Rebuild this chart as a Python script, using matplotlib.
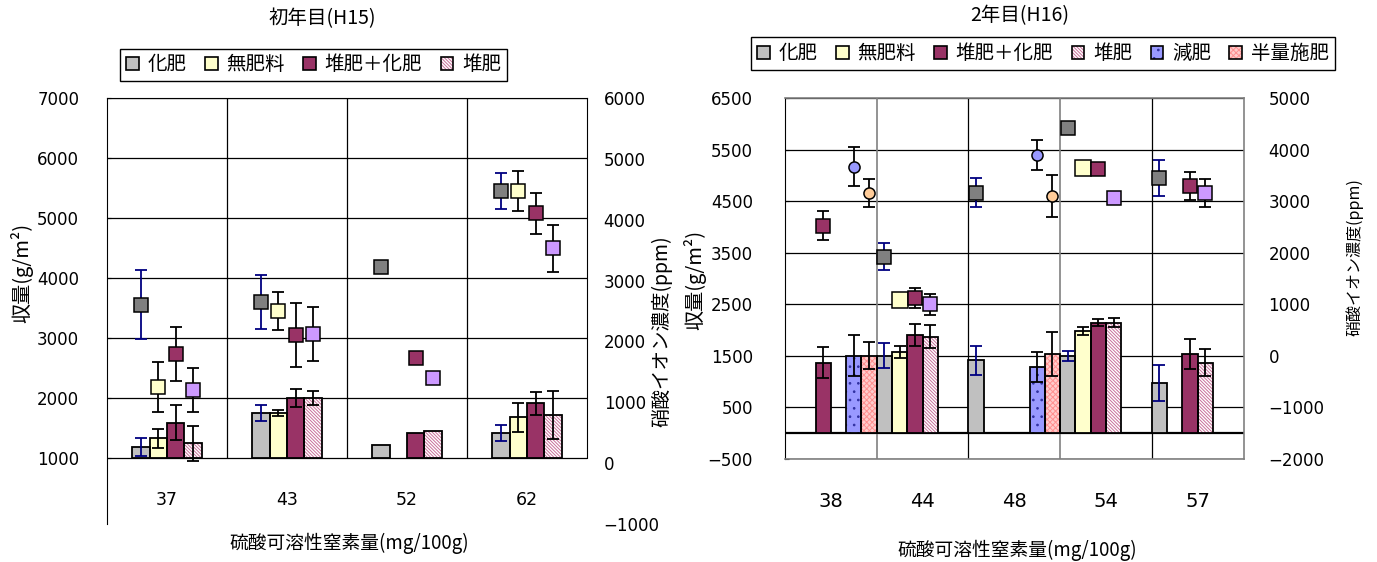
import numpy as np
import matplotlib
matplotlib.use('Agg')
import matplotlib.pyplot as plt
from matplotlib.patches import Patch

plt.rcParams['font.family'] = ['Noto Sans CJK JP', 'DejaVu Sans']
plt.rcParams['hatch.linewidth'] = 0.7
nan = np.nan

# ---- H15 (left chart) ----
cats_h15 = ['37', '43', '52', '62']
series_h15 = ['化肥', '無肥料', '堆肥＋化肥', '堆肥']
# yield bars (g/m2, left axis, axis crosses at 1000)
yield_h15 = {
    '化肥':       [1188, 1745, 1222, 1422],
    '無肥料':     [1328, 1745, nan, 1678],
    '堆肥＋化肥': [1588, 2005, 1422, 1912],
    '堆肥':       [1245, 2005, 1445, 1712],
}
yield_err_h15 = {
    '化肥':       [150, 135, nan, 133],
    '無肥料':     [160, 50, nan, 237],
    '堆肥＋化肥': [290, 148, nan, 190],
    '堆肥':       [290, 115, nan, 397],
}
# nitrate markers (ppm, right axis)
no3_h15 = {
    '化肥':       [2599, 2653, 3228, 4472],
    '無肥料':     [1256, 2505, nan, 4472],
    '堆肥＋化肥': [1794, 2106, 1724, 4107],
    '堆肥':       [1202, 2117, 1396, 3530],
}
no3_err_h15 = {
    '化肥':       [567, 443, 30, 290],
    '無肥料':     [410, 312, nan, 328],
    '堆肥＋化肥': [438, 530, nan, 335],
    '堆肥':       [362, 443, nan, 383],
}

# ---- H16 (right chart) ----
cats_h16 = ['38', '44', '48', '54', '57']
series_h16 = ['化肥', '無肥料', '堆肥＋化肥', '堆肥', '減肥', '半量施肥']
yield_h16 = {
    '化肥':       [nan, 1506, 1410, 1500, 970],
    '無肥料':     [nan, 1571, nan, 1984, nan],
    '堆肥＋化肥': [1371, 1907, nan, 2145, 1532],
    '堆肥':       [nan, 1874, nan, 2145, 1371],
    '減肥':       [1506, nan, 1281, nan, nan],
    '半量施肥':   [1506, nan, 1532, nan, nan],
}
yield_err_h16 = {
    '化肥':       [nan, 250, 275, 100, 355],
    '無肥料':     [nan, 115, nan, 85, nan],
    '堆肥＋化肥': [300, 210, nan, 75, 290],
    '堆肥':       [nan, 225, nan, 90, 265],
    '減肥':       [390, nan, 290, nan, nan],
    '半量施肥':   [268, nan, 425, nan, nan],
}
no3_h16 = {
    '化肥':       [nan, 1924, 3165, 4425, 3456],
    '無肥料':     [nan, 1085, nan, 3638, nan],
    '堆肥＋化肥': [2525, 1130, nan, 3624, 3295],
    '堆肥':       [nan, 1002, nan, 3068, 3165],
    '減肥':       [3669, nan, 3895, nan, nan],
    '半量施肥':   [3165, nan, 3101, nan, nan],
}
no3_err_h16 = {
    '化肥':       [nan, 262, 285, 30, 350],
    '無肥料':     [nan, nan, nan, nan, nan],
    '堆肥＋化肥': [285, 195, nan, 25, 270],
    '堆肥':       [nan, 205, nan, 25, 270],
    '減肥':       [380, nan, 290, nan, nan],
    '半量施肥':   [270, nan, 400, nan, nan],
}

# styles: bar face, hatch, hatch color / marker, marker face, size
bar_style = {
    '化肥':       ('#C0C0C0', None, None),
    '無肥料':     ('#FFFFCC', None, None),
    '堆肥＋化肥': ('#993366', None, None),
    '堆肥':       ('white', '\\' * 10, '#C8709A'),
    '減肥':       ('#9999FF', '..', '#3030A0'),
    '半量施肥':   ('#FFCCCC', 'x' * 6, '#FF9090'),
}
mark_style = {
    '化肥':       ('s', '#808080', 9.5),
    '無肥料':     ('s', '#FFFFCC', 9.5),
    '堆肥＋化肥': ('s', '#993366', 9.5),
    '堆肥':       ('s', '#CC99FF', 9.5),
    '減肥':       ('o', '#9999FF', 8),
    '半量施肥':   ('o', '#FFCC99', 8),
}
err_color = {'化肥': '#000080'}
num_font = 'DejaVu Sans'

W, H = 1377, 562
fig = plt.figure(figsize=(W / 100, H / 100), dpi=100)


def px_axes(x0, x1, y0, y1):
    return fig.add_axes([x0 / W, 1 - y1 / H, (x1 - x0) / W, (y1 - y0) / H])


def draw_bars(ax, series, data, errs, width, base):
    n = len(series)
    for i, s in enumerate(series):
        vals = np.array(data[s], dtype=float)
        x = np.arange(len(vals)) + (i - (n - 1) / 2) * width
        face, hatch, hcol = bar_style[s]
        ax.bar(x, vals - base, width, bottom=base, color=face, hatch=hatch,
               edgecolor=hcol if hatch else face, linewidth=0, zorder=2)
        ax.bar(x, vals - base, width, bottom=base, fill=False,
               edgecolor='black', linewidth=1.3, zorder=3)
        ax.errorbar(x, vals, yerr=errs[s], fmt='none', ecolor=err_color.get(s, 'black'),
                    elinewidth=1.3, capsize=4.5, capthick=1.3, zorder=4)


def draw_marks(ax, series, data, errs, width, sizes=None):
    n = len(series)
    for i, s in enumerate(series):
        vals = np.array(data[s], dtype=float)
        x = np.arange(len(vals)) + (i - (n - 1) / 2) * width
        m, fc, ms = mark_style[s]
        if sizes and s in sizes:
            ms = sizes[s]
        ax.errorbar(x, vals, yerr=errs[s], fmt='none', ecolor=err_color.get(s, 'black'),
                    elinewidth=1.3, capsize=4.5, capthick=1.3, zorder=5)
        ax.plot(x, vals, ls='none', marker=m, ms=ms, mfc=fc, mec='black', mew=1.1, zorder=6)


def legend_handles(series):
    hs = []
    for s in series:
        face, hatch, hcol = bar_style[s]
        if hatch:
            hs.append((Patch(facecolor=face, hatch=hatch, edgecolor=hcol, linewidth=0),
                       Patch(fill=False, edgecolor='black', linewidth=1.2)))
        else:
            hs.append(Patch(facecolor=face, edgecolor='black', linewidth=1.2))
    return hs


# ================= left chart =================
ax = px_axes(107, 587, 98, 524)
ax.set_xlim(-0.5, len(cats_h15) - 0.5)
ax.set_ylim(-100, 7000)
ax.set_yticks(range(1000, 7001, 1000))
ax.yaxis.grid(True, color='black', lw=0.9, zorder=0)
ax.set_axisbelow(True)
ax.vlines(np.arange(len(cats_h15) - 1) + 0.5, 1000, 7000, color='black', lw=0.9, zorder=1)
ax.spines['right'].set_bounds(1000, 7000)
ax.spines['bottom'].set_position(('data', 1000))
ax.spines['bottom'].set_visible(False)
ax.set_xticks(range(len(cats_h15)), cats_h15)
ax.tick_params(axis='x', length=0, pad=24, labelsize=12.5, labelfontfamily=num_font)
ax.tick_params(axis='y', direction='in', length=3, pad=20, labelsize=12, labelfontfamily=num_font)

draw_bars(ax, series_h15, yield_h15, yield_err_h15, 0.145, 1000)

ax2 = ax.twinx()
ax2.set_ylim(-1000, 6000)
ax2.set_yticks(range(-1000, 6001, 1000))
for sp in ax2.spines.values():
    sp.set_visible(False)
ax2.tick_params(axis='y', length=0, pad=12, labelsize=12, labelfontfamily=num_font)
draw_marks(ax2, series_h15, no3_h15, no3_err_h15, 0.145)

fig.text(322 / W, 1 - 19 / H, '初年目(H15)', ha='center', va='center', fontsize=14)
fig.text(349 / W, 1 - 543 / H, '硫酸可溶性窒素量(mg/100g)', ha='center', va='center', fontsize=13.5)
fig.text(22 / W, 1 - 273 / H, '収量(g/m²)', ha='center', va='center', rotation=90, fontsize=14.5)
fig.text(662 / W, 1 - 331 / H, '硝酸イオン濃度(ppm)', ha='center', va='center', rotation=90, fontsize=14)
fig.legend(legend_handles(series_h15), series_h15, loc='center',
           bbox_to_anchor=(313.5 / W, 1 - 65 / H), ncol=4, fontsize=14,
           frameon=True, fancybox=False, edgecolor='black', framealpha=1,
           handlelength=0.65, handleheight=0.65, handletextpad=0.45,
           columnspacing=0.95, borderpad=0.3)

# ================= right chart =================
bx = px_axes(785, 1243.5, 98, 459)
bx.set_xlim(-0.5, len(cats_h16) - 0.5)
bx.set_ylim(-500, 6500)
bx.set_yticks(range(-500, 6501, 1000))
bx.yaxis.grid(True, color='black', lw=0.9, zorder=0)
bx.set_axisbelow(True)
bx.axhline(0, color='black', lw=1.6, zorder=1)
bound_colors = ['#808080', 'black', '#808080', 'black']
for b, c in zip(np.arange(len(cats_h16) - 1) + 0.5, bound_colors):
    bx.axvline(b, color=c, lw=1.2 if c != 'black' else 0.9, zorder=1)
for sp in ['top', 'right', 'bottom']:
    bx.spines[sp].set_color('#808080')
    bx.spines[sp].set_linewidth(1.2)
bx.set_xticks(range(len(cats_h16)), cats_h16)
bx.tick_params(axis='x', length=0, pad=24, labelsize=14, labelfontfamily=num_font)
bx.tick_params(axis='y', direction='in', length=3, pad=23, labelsize=12, labelfontfamily=num_font)

draw_bars(bx, series_h16, yield_h16, yield_err_h16, 1 / 6, 0)

bx2 = bx.twinx()
bx2.set_ylim(-2000, 5000)
bx2.set_yticks(range(-2000, 5001, 1000))
for sp in bx2.spines.values():
    sp.set_visible(False)
bx2.tick_params(axis='y', length=0, pad=18, labelsize=12, labelfontfamily=num_font)
draw_marks(bx2, series_h16, no3_h16, no3_err_h16, 1 / 6, sizes={'無肥料': 12})

fig.text(1020 / W, 1 - 16 / H, '2年目(H16)', ha='center', va='center', fontsize=14)
fig.text(1017 / W, 1 - 550 / H, '硫酸可溶性窒素量(mg/100g)', ha='center', va='center', fontsize=13.5)
fig.text(695 / W, 1 - 280 / H, '収量(g/m²)', ha='center', va='center', rotation=90, fontsize=14.5)
fig.text(1355 / W, 1 - 257 / H, '硝酸イオン濃度(ppm)', ha='center', va='center', rotation=90, fontsize=11.5)
fig.legend(legend_handles(series_h16), series_h16, loc='center',
           bbox_to_anchor=(1043 / W, 1 - 53.5 / H), ncol=6, fontsize=14,
           frameon=True, fancybox=False, edgecolor='black', framealpha=1,
           handlelength=0.65, handleheight=0.65, handletextpad=0.45,
           columnspacing=0.95, borderpad=0.3)

fig.savefig('out.png', dpi=100)
